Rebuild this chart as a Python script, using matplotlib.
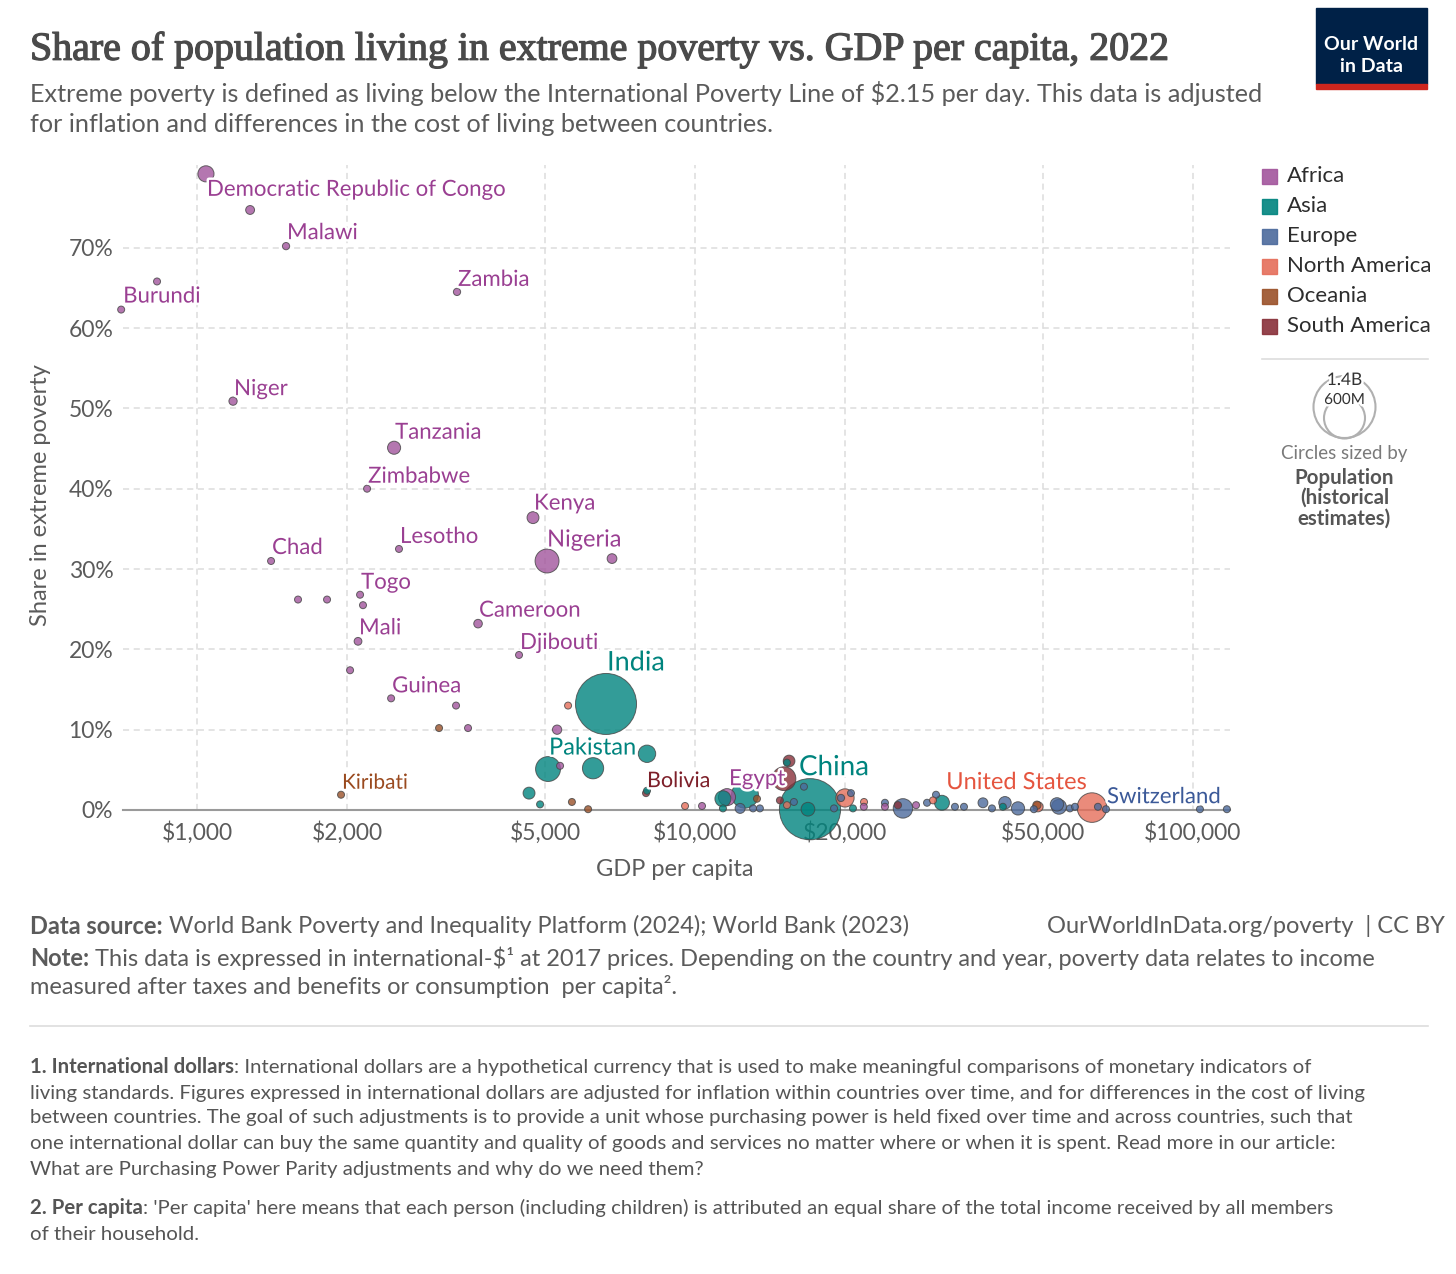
import numpy as np
import matplotlib.pyplot as plt
import matplotlib.patheffects as pe
from matplotlib.patches import Circle, Rectangle
from matplotlib.lines import Line2D

plt.rcParams['font.family'] = ['Lato', 'DejaVu Sans']

# ---- data (GDP per capita in int.-$, share in %, population in millions) ----
africa_names = ["Democratic Republic of Congo", "", "Malawi", "", "Burundi", "Zambia", "Niger",
                "Tanzania", "Zimbabwe", "Kenya", "Lesotho", "Nigeria", "", "Chad", "", "",
                "Togo", "", "Cameroon", "Mali", "Djibouti", "", "Guinea", "", "", "", "",
                "Egypt", "", "", "", ""]
africa_gdp = [1042, 1278, 1509, 831, 704, 3327, 1181, 2487, 2195, 4728, 2544, 5045, 6813, 1408,
              1595, 1824, 2125, 2154, 3667, 2105, 4432, 2029, 2453, 3312, 3501, 5285, 5358,
              11595, 10330, 21830, 24070, 27790]
africa_share = [79.2, 74.7, 70.2, 65.8, 62.3, 64.5, 50.9, 45.1, 40.0, 36.4, 32.5, 31.0, 31.3, 31.0,
                26.2, 26.2, 26.8, 25.5, 23.2, 21.0, 19.3, 17.4, 13.9, 13.0, 10.2, 10.0, 5.5,
                1.6, 0.5, 0.4, 0.4, 0.6]
africa_pop = [99, 30, 20, 5.6, 13, 20, 26, 65, 16, 54, 2.3, 218, 36, 18, 2, 8.6, 8.8, 13.8, 28,
              23, 1.1, 2.7, 14, 1.2, 5, 33, 3, 111, 4, 2, 2, 2]

asia_names = ["India", "Pakistan", "", "", "", "", "", "", "", "", "", "China", "", "", "", ""]
asia_gdp = [6627, 5068, 6241, 8010, 4642, 4885, 8010, 11380, 12600, 11380, 15300, 17020, 16860,
            20760, 31330, 41530]
asia_share = [13.2, 5.1, 5.2, 7.0, 2.1, 0.7, 2.4, 1.4, 1.9, 0.2, 5.9, 0.1, 0.1, 0.2, 0.9, 0.4]
asia_pop = [1417, 236, 171, 115, 54, 10, 3, 98, 275, 3, 3, 1425, 72, 3, 85, 3]

europe_names = [""] * 24 + ["Switzerland", "", ""]
europe_gdp = [12320, 13080, 13500, 15800, 16550, 19020, 19640, 20570, 24070, 26160, 29240, 30480,
              33270, 34690, 37870, 39480, 41930, 44530, 47930, 53330, 53820, 56620, 57960, 64450,
              66890, 103300, 117000]
europe_share = [0.2, 0.2, 0.2, 1.0, 2.9, 0.2, 1.5, 2.1, 0.9, 0.2, 0.9, 1.9, 0.4, 0.4, 0.9, 0.2,
                0.9, 0.2, 0.1, 0.7, 0.4, 0.2, 0.4, 0.4, 0.1, 0.1, 0.1]
europe_pop = [38, 7, 7, 5, 3, 7, 20, 3, 5, 144, 10, 5, 10, 15, 37, 10, 59, 67, 10, 68, 84, 10, 10,
              5, 8.8, 0.7, 0.6]

namerica_names = ["", "", "", "", "", "", "", "United States"]
namerica_gdp = [5560, 9550, 15300, 20010, 21850, 30060, 48850, 62700]
namerica_share = [13.0, 0.5, 0.6, 1.5, 1.0, 1.2, 0.4, 0.3]
namerica_pop = [3, 3, 3, 127, 3, 3, 39, 333]

oceania_names = ["Kiribati", "", "", "", "", ""]
oceania_gdp = [1946, 3062, 5660, 6100, 13320, 48600]
oceania_share = [1.9, 10.2, 1.0, 0.1, 1.4, 0.6]
oceania_pop = [0.13, 2, 3, 3, 3, 26]

samerica_names = ["Bolivia", "", "", "", ""]
samerica_gdp = [7973, 15090, 15450, 14810, 25560]
samerica_share = [2.1, 3.9, 6.1, 1.2, 0.6]
samerica_pop = [12, 215, 52, 3, 20]

regions = ["Africa", "Asia", "Europe", "North America", "Oceania", "South America"]
region_colors = ["#a2559c", "#00847e", "#4c6a9c", "#e56e5a", "#9a5129", "#883039"]
label_colors = ["#9a3f92", "#00847e", "#3b5998", "#e5553f", "#9a4a1f", "#7d1f29"]

x_ticks = [1000, 2000, 5000, 10000, 20000, 50000, 100000]
x_ticklabels = ["$1,000", "$2,000", "$5,000", "$10,000", "$20,000", "$50,000", "$100,000"]
y_ticks = [0, 10, 20, 30, 40, 50, 60, 70]

# ---- label placement (pixel offsets from the point, up positive) ----
label_offsets = {
    "Democratic Republic of Congo": (1, -16, 16, 'left'), "Malawi": (1, 13, 16, 'left'),
    "Zambia": (1, 12, 16, 'left'), "Burundi": (2, 13, 16, 'left'),
    "Niger": (1, 12, 16, 'left'), "Tanzania": (1, 15, 16, 'left'),
    "Zimbabwe": (1, 12, 16, 'left'), "Kenya": (1, 14, 16, 'left'),
    "Lesotho": (1, 12, 16, 'left'), "Nigeria": (0, 21, 17, 'left'),
    "Chad": (1, 13, 16, 'left'), "Togo": (1, 12, 16, 'left'),
    "Cameroon": (1, 13, 16, 'left'), "Mali": (1, 13, 16, 'left'),
    "Djibouti": (1, 12, 16, 'left'), "India": (1, 41, 19.5, 'left'),
    "Guinea": (1, 12, 16, 'left'), "Pakistan": (1, 21, 17, 'left'),
    "Kiribati": (1, 12, 15, 'left'), "Bolivia": (1, 12, 15.5, 'left'),
    "Egypt": (2, 18, 16, 'left'), "China": (-11, 42, 20, 'left'),
    "United States": (-5, 25, 17, 'right'), "Switzerland": (1, 12, 16, 'left'),
}

W, H = 1456, 1274
fig = plt.figure(figsize=(W / 100, H / 100), dpi=100)
fig.patch.set_facecolor('white')

ax = fig.add_axes([123 / W, 1 - 810 / H, (1230 - 123) / W, (810 - 165) / H])
ax.set_xscale('log')
ax.set_xlim(710, 118700)
ax.set_ylim(0, 80.3)

all_sets = [
    (africa_names, africa_gdp, africa_share, africa_pop),
    (asia_names, asia_gdp, asia_share, asia_pop),
    (europe_names, europe_gdp, europe_share, europe_pop),
    (namerica_names, namerica_gdp, namerica_share, namerica_pop),
    (oceania_names, oceania_gdp, oceania_share, oceania_pop),
    (samerica_names, samerica_gdp, samerica_share, samerica_pop),
]

pts = []
for i, (nm, g, s, p) in enumerate(all_sets):
    for k in range(len(g)):
        pts.append((nm[k], g[k], s[k], p[k], i))
pts.sort(key=lambda t: -t[3])

def radius_px(pop):
    return max(3.5, 30.5 * np.sqrt(pop / 1417))

xs = [t[1] for t in pts]
ys = [t[2] for t in pts]
sz = [(2 * radius_px(t[3]) * 0.72) ** 2 for t in pts]
cs = [region_colors[t[4]] for t in pts]
ax.scatter(xs, ys, s=sz, c=cs, alpha=0.8, edgecolors='#444444', linewidths=0.7,
           zorder=3, clip_on=False)

halo = [pe.withStroke(linewidth=3.5, foreground='white')]
for name, g, s, p, i in pts:
    if not name:
        continue
    dx, dy, fs, ha = label_offsets[name]
    ax.annotate(name, (g, s), xytext=(dx * 0.72, dy * 0.72), textcoords='offset points',
                ha=ha, va='center', fontsize=fs, color=label_colors[i],
                path_effects=halo, zorder=5, annotation_clip=False)

ax.set_xticks(x_ticks)
ax.set_xticklabels(x_ticklabels)
ax.xaxis.set_minor_locator(plt.NullLocator())
ax.set_yticks(y_ticks)
ax.set_yticklabels([f"{v}%" for v in y_ticks])
ax.tick_params(length=0, labelsize=16.5, labelcolor='#5b5b5b')
ax.tick_params(axis='x', pad=8)
ax.tick_params(axis='y', pad=7)
ax.grid(True, color='#dddddd', linestyle=(0, (4, 3)), linewidth=1.1, zorder=0)
ax.set_axisbelow(True)
for side in ['top', 'right', 'left']:
    ax.spines[side].set_visible(False)
ax.spines['bottom'].set_color('#9a9a9a')
ax.spines['bottom'].set_linewidth(1.5)
ax.spines['bottom'].set_zorder(2)

# ---- overlay in pixel coordinates for texts, legend and logo ----
ov = fig.add_axes([0, 0, 1, 1], zorder=10)
ov.set_xlim(0, W)
ov.set_ylim(H, 0)
ov.axis('off')
ov.patch.set_alpha(0)
rend = fig.canvas.get_renderer()

def fit(t, width):
    w = t.get_window_extent(rend).width
    t.set_fontsize(t.get_fontsize() * width / w)

title = ov.text(30, 50, "Share of population living in extreme poverty vs. GDP per capita, 2022",
                fontsize=27, family='Liberation Serif', color='#4a4a4a', va='center',
                path_effects=[pe.withStroke(linewidth=0.9, foreground='#4a4a4a')])
fit(title, 1138)
sub1 = ov.text(30, 93, "Extreme poverty is defined as living below the International Poverty Line "
               "of $2.15 per day. This data is adjusted", fontsize=16, color='#5b5b5b', va='center')
fit(sub1, 1242)
ov.text(30, 124, "for inflation and differences in the cost of living between countries.",
        fontsize=sub1.get_fontsize(), color='#5b5b5b', va='center')

# logo
ov.add_patch(Rectangle((1316, 8), 111, 76, color='#002147', zorder=1))
ov.add_patch(Rectangle((1316, 84), 111, 5, color='#ce261e', zorder=1))
ov.text(1371.5, 45, "Our World", color='white', fontsize=14, fontweight='bold',
        ha='center', va='center', zorder=2)
ov.text(1371.5, 67, "in Data", color='white', fontsize=14, fontweight='bold',
        ha='center', va='center', zorder=2)

# axis titles
ov.text(41, 495, "Share in extreme poverty", rotation=90, fontsize=17, color='#5b5b5b',
        ha='center', va='center')
ov.text(675, 870, "GDP per capita", fontsize=17, color='#5b5b5b', ha='center', va='center')

# colour legend
leg_y = [176, 206, 236, 266, 296, 326]
for k, reg in enumerate(regions):
    ov.add_patch(Rectangle((1262, leg_y[k] - 7.5), 15, 15, facecolor=region_colors[k],
                           edgecolor=region_colors[k], alpha=0.9))
    ov.text(1287, leg_y[k], reg, fontsize=16, color='#2d2d2d', va='center')
ov.add_line(Line2D([1262, 1428], [359, 359], color='#dddddd', lw=1.2))

# size legend
ov.add_patch(Circle((1344.5, 407), 31, fill=False, edgecolor='#b0b0b0', lw=1.5))
ov.add_patch(Circle((1344.5, 418), 20.5, fill=False, edgecolor='#b0b0b0', lw=1.5))
ov.text(1344.5, 380, "1.4B", fontsize=12.5, color='#333333', ha='center', va='center',
        path_effects=halo)
ov.text(1344.5, 400, "600M", fontsize=11, color='#333333', ha='center', va='center',
        path_effects=halo)
ov.text(1344.5, 454, "Circles sized by", fontsize=13.5, color='#7a7a7a', ha='center', va='center')
for yy, s in zip([478, 498, 519], ["Population", "(historical", "estimates)"]):
    ov.text(1344.5, yy, s, fontsize=14.8, color='#555555', fontweight='bold', ha='center',
            va='center')

# footer
def runs(x, y, parts, size, color):
    for txt, weight in parts:
        t = ov.text(x, y, txt, fontsize=size, fontweight=weight, color=color, va='center')
        x = t.get_window_extent(rend).x1
    return x

foot_col = '#5b5b5b'
foot_size = 17
runs(30, 926, [("Data source:", 'bold'),
               (" World Bank Poverty and Inequality Platform (2024); World Bank (2023)", 'normal')],
     foot_size, foot_col)
ov.text(1445, 926, "OurWorldInData.org/poverty  | CC BY", fontsize=foot_size, color=foot_col,
        ha='right', va='center')
runs(30, 958, [("Note:", 'bold'),
               (" This data is expressed in international-$¹ at 2017 prices. Depending on the "
                "country and year, poverty data relates to income", 'normal')],
     foot_size, foot_col)
ov.text(30, 986, "measured after taxes and benefits or consumption  per capita².",
        fontsize=foot_size, color=foot_col, va='center')
ov.add_line(Line2D([30, 1428], [1026, 1026], color='#dddddd', lw=1.2))

fn_col = '#555555'
fn_size = 14.7
runs(30, 1067, [("1. International dollars", 'bold'),
                (": International dollars are a hypothetical currency that is used to make "
                 "meaningful comparisons of monetary indicators of", 'normal')], fn_size, fn_col)
fn_lines = [
    "living standards. Figures expressed in international dollars are adjusted for inflation within "
    "countries over time, and for differences in the cost of living",
    "between countries. The goal of such adjustments is to provide a unit whose purchasing power is "
    "held fixed over time and across countries, such that",
    "one international dollar can buy the same quantity and quality of goods and services no matter "
    "where or when it is spent. Read more in our article:",
    "What are Purchasing Power Parity adjustments and why do we need them?",
]
for yy, s in zip([1093, 1118, 1144, 1169], fn_lines):
    ov.text(30, yy, s, fontsize=fn_size, color=fn_col, va='center')
runs(30, 1208, [("2. Per capita", 'bold'),
                (": 'Per capita' here means that each person (including children) is attributed an "
                 "equal share of the total income received by all members", 'normal')],
     fn_size, fn_col)
ov.text(30, 1234, "of their household.", fontsize=fn_size, color=fn_col, va='center')

fig.savefig("out.png", dpi=100, facecolor='white')
